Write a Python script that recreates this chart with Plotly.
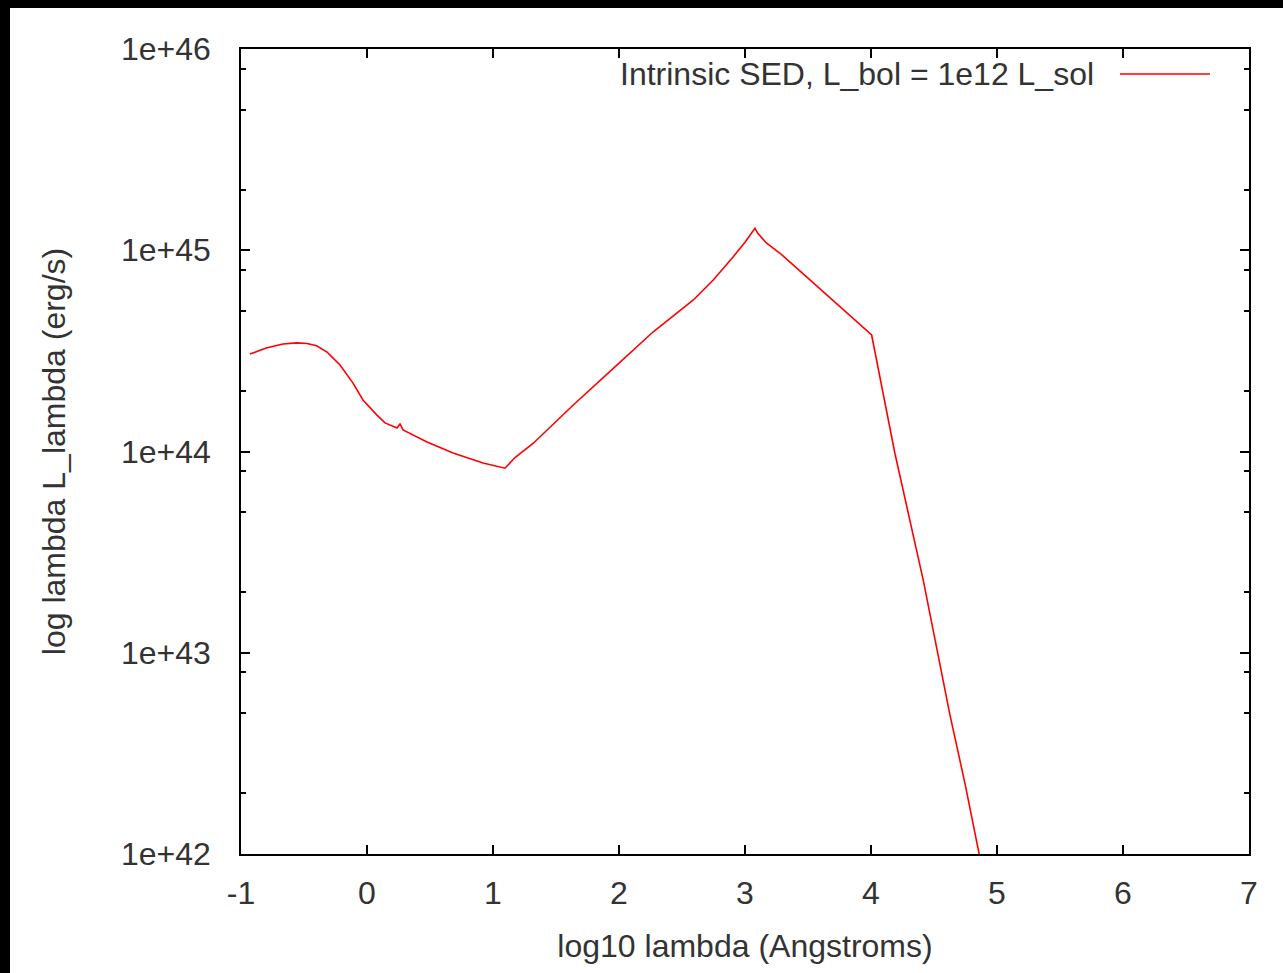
import numpy as np
import plotly.graph_objects as go

# ---- data ----
log_lambda = [-0.93, -0.80, -0.667, -0.556, -0.476, -0.40, -0.317, -0.214, -0.111, -0.032,
              0.079, 0.143, 0.238, 0.262, 0.286, 0.476, 0.683, 0.921, 1.095, 1.175,
              1.320, 1.637, 1.955, 2.272, 2.590, 2.748, 2.907, 3.0,
              3.079, 3.10, 3.172, 3.278, 3.373, 3.516, 3.675, 3.778, 3.913, 4.005,
              4.190, 4.415, 4.627, 4.746, 4.860, 4.88]
log_L = [44.484, 44.514, 44.534, 44.540, 44.537, 44.525, 44.494, 44.430, 44.340, 44.256,
         44.181, 44.142, 44.117, 44.137, 44.107, 44.047, 43.993, 43.943, 43.917, 43.970,
         44.041, 44.231, 44.413, 44.595, 44.753, 44.852, 44.968, 45.04,
         45.109, 45.085, 45.035, 44.985, 44.932, 44.852, 44.760, 44.705, 44.630, 44.579,
         43.990, 43.360, 42.690, 42.350, 41.995, 41.93]
L_lambda = [10.0 ** v for v in log_L]

series_name = "Intrinsic SED, L_bol = 1e12 L_sol"
x_ticks = [-1, 0, 1, 2, 3, 4, 5, 6, 7]
x_ticktext = ["-1", "0", "1", "2", "3", "4", "5", "6", "7"]
y_ticks = [1e42, 1e43, 1e44, 1e45, 1e46]
y_ticktext = ["1e+42", "1e+43", "1e+44", "1e+45", "1e+46"]
y_minor = [float(m) * 10.0 ** e for e in range(42, 46) for m in (2, 5, 8)]

FONT = "Liberation Sans, Arial, sans-serif"
TXT = "#333333"
FS = 32

fig = go.Figure()
fig.add_trace(go.Scatter(x=log_lambda, y=L_lambda, mode="lines",
                         line=dict(color="#ff0000", width=1.6),
                         name=series_name, showlegend=False))

# plot-area geometry in pixels (for paper conversions)
L, R, T, B = 241, 1249, 49, 854
W, H = 1283, 973
def px(xp): return (xp - L) / (R - L)
def py(yp): return (B - yp) / (B - T)

fig.update_layout(
    width=W, height=H,
    margin=dict(l=L, r=W - R, t=T, b=H - B, pad=0),
    paper_bgcolor="white", plot_bgcolor="white",
    font=dict(family=FONT, size=FS, color=TXT),
    xaxis=dict(range=[-1, 7], tickmode="array", tickvals=x_ticks, ticktext=x_ticktext,
               ticks="inside", ticklen=9, tickwidth=1.5, tickcolor="black",
               showline=True, linecolor="black", linewidth=1.5, mirror="ticks",
               showgrid=False, zeroline=False, ticklabelstandoff=10,
               tickfont=dict(size=FS, color=TXT),
               title=dict(text="log10 lambda (Angstroms)", standoff=24,
                          font=dict(size=FS, color=TXT))),
    yaxis=dict(type="log", range=[42, 46], tickmode="array", tickvals=y_ticks,
               ticktext=y_ticktext,
               ticks="inside", ticklen=9, tickwidth=1.5, tickcolor="black",
               minor=dict(tickmode="array", tickvals=y_minor, ticks="inside",
                          ticklen=5, tickwidth=1.5, tickcolor="black", showgrid=False),
               showline=True, linecolor="black", linewidth=1.5, mirror="ticks",
               showgrid=False, zeroline=False, ticklabelstandoff=22,
               tickfont=dict(size=FS, color=TXT),
               title=dict(text="log lambda L_lambda (erg/s)", standoff=46,
                          font=dict(size=FS, color=TXT))),
)

# legend (gnuplot style: text left of the sample line)
fig.add_annotation(xref="paper", yref="paper", x=px(1096), y=py(74),
                   xanchor="right", yanchor="middle", showarrow=False,
                   text=series_name, font=dict(size=FS, color=TXT, family=FONT))
fig.add_shape(type="line", xref="paper", yref="paper",
              x0=px(1120), x1=px(1210), y0=py(74), y1=py(74),
              line=dict(color="#ff0000", width=1.6))

# black frame strips (top and left edges of the screenshot)
fig.add_shape(type="rect", xref="paper", yref="paper", layer="above",
              x0=px(-5), x1=px(10), y0=py(H + 5), y1=py(-5),
              fillcolor="black", line=dict(width=0))
fig.add_shape(type="rect", xref="paper", yref="paper", layer="above",
              x0=px(-5), x1=px(W + 5), y0=py(8), y1=py(-5),
              fillcolor="black", line=dict(width=0))

fig.write_html("out.html")
